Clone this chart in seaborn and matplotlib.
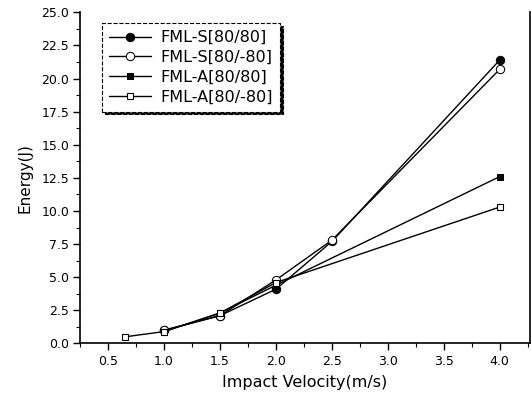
import matplotlib
matplotlib.use("Agg")
import matplotlib.pyplot as plt
import seaborn as sns
import pandas as pd
from matplotlib.ticker import MultipleLocator

sns.set_theme(style="white")
plt.rcParams['font.family'] = ['DejaVu Sans']
plt.rcParams['text.color'] = 'black'

series_names = ["FML-S[80/80]", "FML-S[80/-80]", "FML-A[80/80]", "FML-A[80/-80]"]
vel_s1 = [1.0, 1.5, 2.0, 2.5, 4.0]
energy_s1 = [1.0, 2.1, 4.1, 7.7, 21.4]
vel_s2 = [1.0, 1.5, 2.0, 2.5, 4.0]
energy_s2 = [1.0, 2.1, 4.8, 7.8, 20.7]
vel_a1 = [1.0, 1.5, 2.0, 4.0]
energy_a1 = [0.9, 2.3, 4.4, 12.6]
vel_a2 = [0.65, 1.0, 1.5, 2.0, 4.0]
energy_a2 = [0.5, 0.9, 2.3, 4.6, 10.3]

x_ticks = [0.5, 1.0, 1.5, 2.0, 2.5, 3.0, 3.5, 4.0]
y_ticks = [0.0, 2.5, 5.0, 7.5, 10.0, 12.5, 15.0, 17.5, 20.0, 22.5, 25.0]

frames = []
for name, xs, ys in zip(series_names,
                        [vel_s1, vel_s2, vel_a1, vel_a2],
                        [energy_s1, energy_s2, energy_a1, energy_a2]):
    frames.append(pd.DataFrame({"Impact Velocity(m/s)": xs, "Energy(J)": ys, "series": name}))
df = pd.concat(frames, ignore_index=True)

fig = plt.figure(figsize=(5.31, 3.98), dpi=100)
ax = fig.add_axes([0.151, 0.137, 0.847, 0.832])

styles = {
    "FML-S[80/80]": dict(marker="o", markersize=6, markerfacecolor="black", markeredgecolor="black"),
    "FML-S[80/-80]": dict(marker="o", markersize=6, markerfacecolor="white", markeredgecolor="black"),
    "FML-A[80/80]": dict(marker="s", markersize=5, markerfacecolor="black", markeredgecolor="black"),
    "FML-A[80/-80]": dict(marker="s", markersize=4.5, markerfacecolor="white", markeredgecolor="black", markeredgewidth=0.8),
}
for name in series_names:
    sub = df[df["series"] == name]
    sns.lineplot(data=sub, x="Impact Velocity(m/s)", y="Energy(J)", ax=ax,
                 color="black", linewidth=1.0, label=name, sort=False,
                 **styles[name])

ax.set_xlim(0.25, 4.27)
ax.set_ylim(0, 25)
ax.set_xticks(x_ticks)
ax.set_yticks(y_ticks)
ax.set_xticklabels([f"{v:.1f}" for v in x_ticks])
ax.set_yticklabels([f"{v:.1f}" for v in y_ticks])
ax.xaxis.set_minor_locator(MultipleLocator(0.25))
ax.yaxis.set_minor_locator(MultipleLocator(1.25))
ax.tick_params(axis="both", which="major", direction="out", length=5, width=1,
               color="black", labelsize=9, labelcolor="black",
               bottom=True, left=True, pad=3)
ax.tick_params(axis="both", which="minor", direction="out", length=3, width=0.8,
               color="black", bottom=True, left=True)
for s in ["left", "bottom", "right"]:
    ax.spines[s].set_color("black")
    ax.spines[s].set_linewidth(1.2)
ax.spines["top"].set_visible(False)

ax.set_xlabel("Impact Velocity(m/s)", fontsize=11.5, color="black", labelpad=5)
ax.set_ylabel("Energy(J)", fontsize=11, color="black", labelpad=6)

leg = ax.legend(loc="upper left", bbox_to_anchor=(0.049, 0.968), fontsize=11.5,
                frameon=True, fancybox=False, shadow={"color": "black", "alpha": 1},
                handlelength=2.6, labelspacing=0.3, borderpad=0.45,
                handletextpad=0.6, borderaxespad=0.0, labelcolor="black")
frame = leg.get_frame()
frame.set_edgecolor("black")
frame.set_linestyle("--")
frame.set_linewidth(0.8)
frame.set_facecolor("white")
frame.set_alpha(1)

fig.savefig("out.png", dpi=100)
